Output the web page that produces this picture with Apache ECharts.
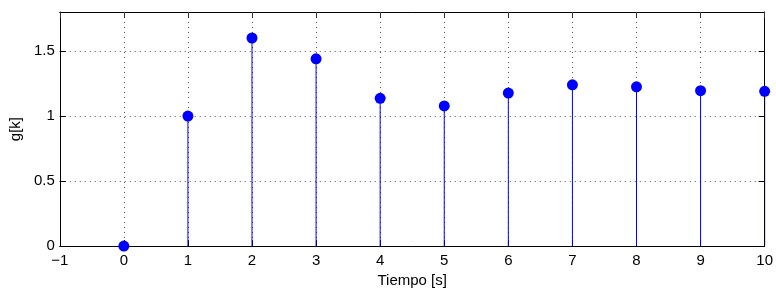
<!DOCTYPE html>
<html>
<head>
<meta charset="utf-8">
<script src="https://cdn.jsdelivr.net/npm/echarts@6/dist/echarts.min.js"></script>
<style>html,body{margin:0;padding:0;background:#fff}#c{width:776px;height:293px}</style>
</head>
<body>
<div id="c"></div>
<script>
const kValues = [0, 1, 2, 3, 4, 5, 6, 7, 8, 9, 10];
const gValues = [0, 1.0, 1.60, 1.44, 1.136, 1.078, 1.177, 1.24, 1.225, 1.195, 1.19];
const xLabel = 'Tiempo [s]';
const yLabel = 'g[k]';

const data = kValues.map((k, i) => [k, gValues[i]]);
const font = 'Liberation Sans, Arial, Helvetica, sans-serif';
const gridLine = {show: true, lineStyle: {color: '#555', type: [1, 4], width: 1}};

const chart = echarts.init(document.getElementById('c'), null, {renderer: 'canvas'});
chart.setOption({
  animation: false,
  backgroundColor: '#fff',
  grid: {left: 55, right: 8, top: 12, bottom: 44, containLabel: false},
  xAxis: [{
    type: 'value', min: -1, max: 10, interval: 1, position: 'bottom',
    axisLine: {show: true, onZero: false, lineStyle: {color: '#000', width: 1}},
    axisTick: {show: true, inside: true, length: 6, lineStyle: {color: '#000'}},
    axisLabel: {color: '#000', fontSize: 15, fontFamily: font, margin: 7,
      formatter: v => (v < 0 ? '\u2212' + Math.abs(v) : String(v))},
    splitLine: gridLine,
    name: xLabel, nameLocation: 'middle', nameGap: 26,
    nameTextStyle: {color: '#000', fontSize: 15, fontFamily: font}
  }, {
    type: 'value', min: -1, max: 10, interval: 1, position: 'top', z: 5,
    axisLine: {show: true, onZero: false, lineStyle: {color: '#000', width: 1}},
    axisTick: {show: true, inside: true, length: 6, lineStyle: {color: '#333'}},
    axisLabel: {show: false}, splitLine: {show: false}
  }],
  yAxis: [{
    type: 'value', min: 0, max: 1.8, interval: 0.5, position: 'left',
    axisLine: {show: true, onZero: false, lineStyle: {color: '#000', width: 1}},
    axisTick: {show: true, inside: true, length: 6, lineStyle: {color: '#000'}},
    axisLabel: {color: '#000', fontSize: 15, fontFamily: font, margin: 5,
      formatter: v => (Math.abs(v / 0.5 - Math.round(v / 0.5)) < 1e-9 ? String(v) : '')},
    splitLine: gridLine,
    name: yLabel, nameLocation: 'middle', nameGap: 26,
    nameTextStyle: {color: '#000', fontSize: 15, fontFamily: font}
  }, {
    type: 'value', min: 0, max: 1.8, interval: 0.5, position: 'right', z: 5,
    axisLine: {show: true, onZero: false, lineStyle: {color: '#000', width: 1}},
    axisTick: {show: true, inside: true, length: 6, lineStyle: {color: '#000'}},
    axisLabel: {show: false}, splitLine: {show: false}
  }],
  series: [{
    type: 'bar', data: data, barWidth: 1, xAxisIndex: 0, yAxisIndex: 0,
    itemStyle: {color: '#0000ff'}, z: 3
  }, {
    type: 'scatter', data: data, symbol: 'circle', symbolSize: 11,
    xAxisIndex: 0, yAxisIndex: 0,
    itemStyle: {color: '#0000ff', opacity: 1}, z: 6
  }]
});
</script>
</body>
</html>
